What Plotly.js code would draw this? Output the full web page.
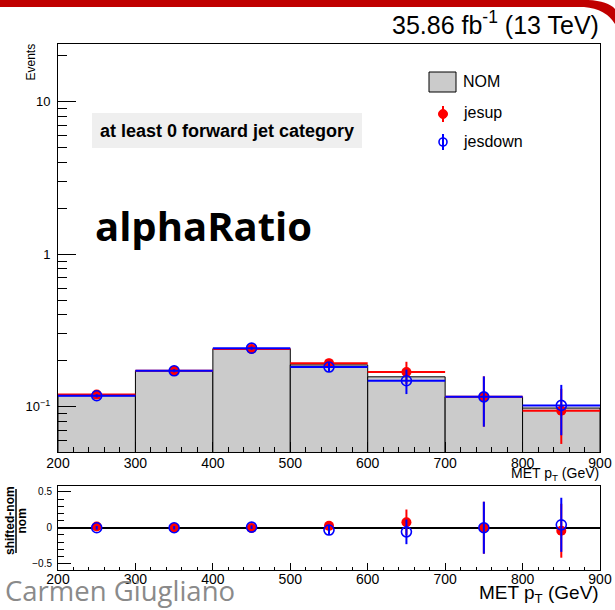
<!DOCTYPE html>
<html>
<head>
<meta charset="utf-8">
<script src="https://cdn.plot.ly/plotly-3.0.1.min.js"></script>
<style>
  html, body { margin: 0; padding: 0; background: #ffffff; }
  #plot { width: 615px; height: 610px; }
</style>
</head>
<body>
<div id="plot"></div>
<script>
// MET pT bins (GeV): centres and half-width
const binCenters = [250, 350, 450, 550, 650, 750, 850];
const binHalfWidth = 50;

// Nominal prediction and the JES-shifted variations (events per bin)
const nomValues     = [0.118, 0.172, 0.240, 0.188, 0.157, 0.116, 0.098];
const jesupValues   = [0.120, 0.172, 0.239, 0.193, 0.169, 0.116, 0.094];
const jesdownValues = [0.118, 0.172, 0.242, 0.182, 0.148, 0.116, 0.102];

// Statistical uncertainties of the shifted histograms
const jesupErrors   = [0.003, 0.004, 0.006, 0.013, 0.028, 0.042, 0.037];
const jesdownErrors = [0.003, 0.004, 0.006, 0.013, 0.027, 0.042, 0.037];

// Axis tick labels
const xTickVals = [200, 300, 400, 500, 600, 700, 800, 900];
const mainTickVals = [0.1, 1, 10];
const mainTickText = ['10<sup>\u22121</sup>', '1', '10'];
const ratioTickVals = [-0.5, 0, 0.5];
const ratioTickText = ['\u22120.5', '0', '0.5'];

// (shifted - nom) / nom and its uncertainty
const ratio = (vals) => vals.map((v, i) => (v - nomValues[i]) / nomValues[i]);
const ratioErr = (errs) => errs.map((e, i) => e / nomValues[i]);

const RED = '#ff0000';
const BLUE = '#0000ff';
const GREY = '#cbcbcb';
const FONT = 'Liberation Sans, Arial, Helvetica, sans-serif';

// page pixel -> paper coordinates (plot area spans x 58..600, y 44..570)
const PX = (x) => (x - 58) / 542;
const PY = (y) => (570 - y) / 526;

// minor ticks of the log axis
const logMinor = [];
[0.01, 0.1, 1, 10].forEach(d => { for (let k = 2; k <= 9; k++) logMinor.push(k * d); });

const traces = [
  {
    type: 'bar', x: binCenters, y: nomValues, xaxis: 'x', yaxis: 'y',
    marker: { color: GREY, line: { color: '#000000', width: 1 } },
    name: 'NOM', showlegend: false, hoverinfo: 'skip'
  },
  {
    type: 'scatter', mode: 'markers', x: binCenters, y: jesupValues, xaxis: 'x', yaxis: 'y',
    marker: { symbol: 'circle', size: 10, color: RED },
    error_x: { type: 'constant', value: binHalfWidth, color: RED, thickness: 2, width: 0 },
    error_y: { type: 'data', array: jesupErrors, color: RED, thickness: 2, width: 0 },
    name: 'jesup', showlegend: false
  },
  {
    type: 'scatter', mode: 'markers', x: binCenters, y: jesdownValues, xaxis: 'x', yaxis: 'y',
    marker: { symbol: 'circle-open', size: 10, color: BLUE, line: { width: 1.6, color: BLUE } },
    error_x: { type: 'constant', value: binHalfWidth, color: BLUE, thickness: 2, width: 0 },
    error_y: { type: 'data', array: jesdownErrors, color: BLUE, thickness: 2, width: 0 },
    name: 'jesdown', showlegend: false
  },
  {
    type: 'scatter', mode: 'markers', x: binCenters, y: ratio(jesupValues), xaxis: 'x2', yaxis: 'y2',
    marker: { symbol: 'circle', size: 10, color: RED },
    error_y: { type: 'data', array: ratioErr(jesupErrors), color: RED, thickness: 2, width: 0 },
    showlegend: false
  },
  {
    type: 'scatter', mode: 'markers', x: binCenters, y: ratio(jesdownValues), xaxis: 'x2', yaxis: 'y2',
    marker: { symbol: 'circle-open', size: 10, color: BLUE, line: { width: 1.6, color: BLUE } },
    error_y: { type: 'data', array: ratioErr(jesdownErrors), color: BLUE, thickness: 2, width: 0 },
    showlegend: false
  }
];

const axisCommon = {
  showline: true, linecolor: '#000000', linewidth: 1, mirror: true,
  showgrid: false, zeroline: false, ticks: 'inside', tickcolor: '#000000', tickwidth: 1
};

const mainBottom = PY(452);
const ratioTop = PY(485.5);

const layout = {
  width: 615, height: 610,
  margin: { l: 58, r: 15, t: 44, b: 40 },
  paper_bgcolor: '#ffffff', plot_bgcolor: '#ffffff',
  font: { family: FONT, color: '#000000' },
  showlegend: false,
  bargap: 0,
  xaxis: Object.assign({}, axisCommon, {
    domain: [0, 1], anchor: 'y', range: [200, 900],
    tickvals: xTickVals, ticklen: 10,
    tickfont: { size: 14, family: FONT }, ticklabelstandoff: -2,
    minor: { dtick: 20, tick0: 200, ticks: 'inside', ticklen: 5, tickcolor: '#000000', tickwidth: 1 }
  }),
  yaxis: Object.assign({}, axisCommon, {
    domain: [mainBottom, 1], anchor: 'x', type: 'log', range: [-1.297, 1.378],
    tickvals: mainTickVals, ticktext: mainTickText, ticklen: 18,
    tickfont: { size: 13, family: FONT }, ticklabelstandoff: 4,
    minor: { tickvals: logMinor, ticks: 'inside', ticklen: 9, tickcolor: '#000000', tickwidth: 1 }
  }),
  xaxis2: Object.assign({}, axisCommon, {
    domain: [0, 1], anchor: 'y2', range: [200, 900],
    tickvals: xTickVals, ticklen: 7,
    tickfont: { size: 14, family: FONT }, ticklabelstandoff: -4,
    minor: { dtick: 20, tick0: 200, ticks: 'inside', ticklen: 3, tickcolor: '#000000', tickwidth: 1 }
  }),
  yaxis2: Object.assign({}, axisCommon, {
    domain: [0, ratioTop], anchor: 'x2', range: [-0.59, 0.59],
    tickvals: ratioTickVals, ticktext: ratioTickText, ticklen: 13,
    tickfont: { size: 10, family: FONT }, ticklabelstandoff: 3,
    zeroline: true, zerolinecolor: '#000000', zerolinewidth: 2,
    minor: { dtick: 0.1, tick0: 0, ticks: 'inside', ticklen: 6, tickcolor: '#000000', tickwidth: 1 }
  }),
  shapes: [
    // header band
    {
      type: 'path', xref: 'paper', yref: 'paper', layer: 'above',
      path: 'M ' + PX(0) + ' ' + PY(0) +
            ' L ' + PX(588) + ' ' + PY(0) +
            ' Q ' + PX(608) + ' ' + PY(1) + ' ' + PX(615) + ' ' + PY(9) +
            ' L ' + PX(615) + ' ' + PY(24) +
            ' Q ' + PX(606) + ' ' + PY(9) + ' ' + PX(584) + ' ' + PY(7) +
            ' L ' + PX(0) + ' ' + PY(7) + ' Z',
      fillcolor: '#c00000', line: { width: 0 }
    },
    // category label background
    {
      type: 'rect', xref: 'paper', yref: 'paper', layer: 'above',
      x0: PX(92), x1: PX(362), y0: PY(148), y1: PY(113),
      fillcolor: '#efefef', line: { width: 0 }
    },
    // legend: NOM box
    {
      type: 'rect', xref: 'paper', yref: 'paper', layer: 'above',
      x0: PX(429), x1: PX(456), y0: PY(92), y1: PY(72),
      fillcolor: GREY, line: { color: '#000000', width: 1 }
    },
    // legend: jesup marker
    {
      type: 'line', xref: 'paper', yref: 'paper', layer: 'above',
      x0: PX(443), x1: PX(443), y0: PY(106), y1: PY(122),
      line: { color: RED, width: 2 }
    },
    {
      type: 'circle', xref: 'paper', yref: 'paper', layer: 'above',
      x0: PX(438.5), x1: PX(447.5), y0: PY(118.5), y1: PY(109.5),
      fillcolor: RED, line: { color: RED, width: 1 }
    },
    // legend: jesdown marker
    {
      type: 'line', xref: 'paper', yref: 'paper', layer: 'above',
      x0: PX(443), x1: PX(443), y0: PY(134), y1: PY(150),
      line: { color: BLUE, width: 2 }
    },
    {
      type: 'circle', xref: 'paper', yref: 'paper', layer: 'above',
      x0: PX(439), x1: PX(447), y0: PY(146), y1: PY(138),
      fillcolor: 'rgba(0,0,0,0)', line: { color: BLUE, width: 1.6 }
    },
    // fraction bar of the ratio axis title
    {
      type: 'line', xref: 'paper', yref: 'paper', layer: 'above',
      x0: PX(16), x1: PX(16), y0: PY(553), y1: PY(489),
      line: { color: '#000000', width: 1.5 }
    }
  ],
  annotations: [
    {
      xref: 'paper', yref: 'paper', x: PX(601), y: PY(23), xanchor: 'right', yanchor: 'middle',
      text: '35.86 fb<sup>-1</sup> (13 TeV)', showarrow: false,
      font: { family: FONT, size: 25, color: '#000000' }
    },
    {
      xref: 'paper', yref: 'paper', x: PX(30), y: PY(42), xanchor: 'center', yanchor: 'top',
      text: 'Events', textangle: -90, showarrow: false,
      font: { family: FONT, size: 12, color: '#000000' }
    },
    {
      xref: 'paper', yref: 'paper', x: PX(227), y: PY(131), xanchor: 'center', yanchor: 'middle',
      text: '<b>at least 0 forward jet category</b>', showarrow: false,
      font: { family: FONT, size: 18, color: '#000000' }
    },
    {
      xref: 'paper', yref: 'paper', x: PX(93), y: PY(226), xanchor: 'left', yanchor: 'middle',
      text: '<b>alphaRatio</b>', showarrow: false,
      font: { family: 'Open Sans, Noto Sans, sans-serif', size: 40, color: '#000000' }
    },
    {
      xref: 'paper', yref: 'paper', x: PX(461), y: PY(82), xanchor: 'left', yanchor: 'middle',
      text: 'NOM', showarrow: false, font: { family: FONT, size: 16, color: '#000000' }
    },
    {
      xref: 'paper', yref: 'paper', x: PX(461), y: PY(113), xanchor: 'left', yanchor: 'middle',
      text: 'jesup', showarrow: false, font: { family: FONT, size: 16, color: '#000000' }
    },
    {
      xref: 'paper', yref: 'paper', x: PX(461), y: PY(141), xanchor: 'left', yanchor: 'middle',
      text: 'jesdown', showarrow: false, font: { family: FONT, size: 16, color: '#000000' }
    },
    {
      xref: 'paper', yref: 'paper', x: PX(601), y: PY(474), xanchor: 'right', yanchor: 'middle',
      text: 'MET p<sub>T</sub> (GeV)', showarrow: false,
      font: { family: FONT, size: 14, color: '#000000' }
    },
    {
      xref: 'paper', yref: 'paper', x: PX(601), y: PY(594), xanchor: 'right', yanchor: 'middle',
      text: 'MET p<sub>T</sub> (GeV)', showarrow: false,
      font: { family: FONT, size: 19, color: '#000000' }
    },
    {
      xref: 'paper', yref: 'paper', x: PX(10), y: PY(521), xanchor: 'center', yanchor: 'middle',
      text: '<b>shifted-nom</b>', textangle: -90, showarrow: false,
      font: { family: FONT, size: 12, color: '#000000' }
    },
    {
      xref: 'paper', yref: 'paper', x: PX(21.5), y: PY(521), xanchor: 'center', yanchor: 'middle',
      text: '<b>nom</b>', textangle: -90, showarrow: false,
      font: { family: FONT, size: 12, color: '#000000' }
    },
    {
      xref: 'paper', yref: 'paper', x: PX(3), y: PY(590), xanchor: 'left', yanchor: 'middle',
      text: 'Carmen Giugliano', showarrow: false,
      font: { family: 'Open Sans, Noto Sans, sans-serif', size: 27.5, color: '#8a8a8a' }
    }
  ]
};

Plotly.newPlot('plot', traces, layout, { staticPlot: true, displayModeBar: false });
</script>
</body>
</html>
